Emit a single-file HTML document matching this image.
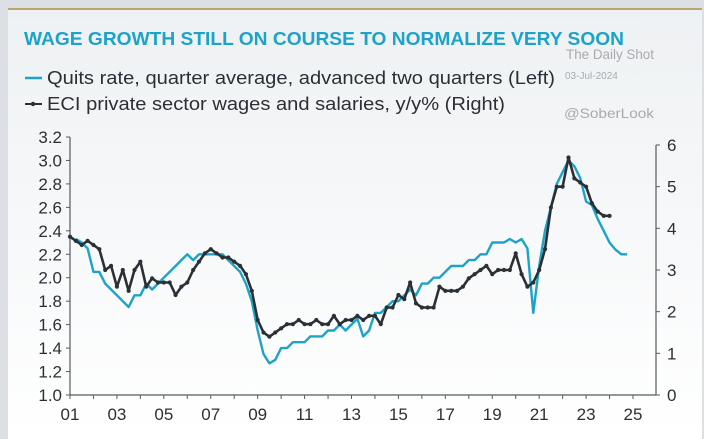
<!DOCTYPE html>
<html><head><meta charset="utf-8"><style>
html,body{margin:0;padding:0;background:#fff;}
#wrap{position:relative;width:704px;height:439px;overflow:hidden;font-family:"Liberation Sans",sans-serif;}
</style></head><body>
<div id="wrap">
<svg id="svg" width="704" height="439" viewBox="0 0 704 439" xmlns="http://www.w3.org/2000/svg">
<defs><linearGradient id="bg" x1="0" y1="0" x2="0" y2="1"><stop offset="0" stop-color="#eef1f3"/><stop offset="1" stop-color="#ffffff"/></linearGradient></defs>
<rect x="0" y="0" width="704" height="439" fill="#dcdfe3"/>
<rect x="8" y="8" width="694" height="431" fill="url(#bg)"/>
<rect x="8" y="8" width="694" height="2" fill="#b9a46a"/>
<text x="24" y="45" font-size="18" font-weight="bold" fill="#1da3c8" textLength="600" lengthAdjust="spacingAndGlyphs">WAGE GROWTH STILL ON COURSE TO NORMALIZE VERY SOON</text>
<text x="566" y="59" font-size="14" fill="#a7abb0" textLength="88" lengthAdjust="spacingAndGlyphs">The Daily Shot</text>
<text x="565" y="79" font-size="10" fill="#a7abb0">03-Jul-2024</text>
<text x="564" y="118" font-size="14" fill="#a7abb0" textLength="90" lengthAdjust="spacingAndGlyphs">@SoberLook</text>
<g>
<line x1="25" y1="78" x2="42" y2="78" stroke="#1da3c8" stroke-width="2.5"/>
<text x="47" y="84" font-size="18" fill="#2b3035" textLength="508" lengthAdjust="spacingAndGlyphs">Quits rate, quarter average, advanced two quarters (Left)</text>
<line x1="25" y1="104" x2="42" y2="104" stroke="#2b3035" stroke-width="2"/>
<circle cx="33" cy="104" r="2.2" fill="#2b3035"/>
<text x="47" y="110" font-size="18" fill="#2b3035" textLength="458" lengthAdjust="spacingAndGlyphs">ECI private sector wages and salaries, y/y% (Right)</text>
</g>
<g id="axes"></g>
<g id="plot"></g>
</svg>
</div>
<script>
const leftTicks=[1.0,1.2,1.4,1.6,1.8,2.0,2.2,2.4,2.6,2.8,3.0,3.2];
const rightTicks=[0,1,2,3,4,5,6];
const yearTicks=[2001,2003,2005,2007,2009,2011,2013,2015,2017,2019,2021,2023,2025];
const quitsStart=2001.25;
const quitsValues=[2.33,2.3,2.25,2.05,2.05,1.95,1.9,1.85,1.8,1.75,1.85,1.85,1.95,1.9,1.95,2.0,2.05,2.1,2.15,2.2,2.15,2.2,2.2,2.2,2.2,2.2,2.15,2.1,2.05,1.95,1.8,1.55,1.35,1.27,1.3,1.4,1.4,1.45,1.45,1.45,1.5,1.5,1.5,1.55,1.55,1.6,1.55,1.6,1.65,1.5,1.55,1.7,1.7,1.75,1.8,1.8,1.85,1.9,1.85,1.95,1.95,2.0,2.0,2.05,2.1,2.1,2.1,2.15,2.15,2.2,2.2,2.3,2.3,2.3,2.33,2.3,2.33,2.25,1.7,2.1,2.4,2.6,2.8,2.9,3.0,2.95,2.85,2.65,2.62,2.5,2.4,2.3,2.24,2.2,2.2];
const eciStart=2001.0;
const eciValues=[3.8,3.7,3.6,3.7,3.6,3.5,3.0,3.1,2.6,3.0,2.5,3.0,3.2,2.6,2.8,2.7,2.7,2.7,2.4,2.6,2.7,3.0,3.2,3.4,3.5,3.4,3.3,3.3,3.2,3.1,2.9,2.5,1.8,1.5,1.4,1.5,1.6,1.7,1.7,1.8,1.7,1.7,1.8,1.7,1.7,1.9,1.7,1.8,1.8,1.9,1.8,1.9,1.9,1.7,2.1,2.1,2.4,2.3,2.7,2.2,2.1,2.1,2.1,2.6,2.5,2.5,2.5,2.6,2.8,2.9,3.0,3.1,2.9,3.0,3.0,3.0,3.4,2.9,2.6,2.7,3.0,3.5,4.5,5.0,5.0,5.7,5.2,5.1,5.0,4.6,4.4,4.3,4.3];

const X0=70,X1=633,YT=137,YB=395,RT=145;
const xS=t=>X0+(t-2001)*(X1-X0)/24;
const yL=v=>YB-(v-1.0)*(YB-YT)/2.2;
const yR=v=>YB-v*(YB-RT)/6;
const NS='http://www.w3.org/2000/svg';
function mk(tag,attrs,parent){const e=document.createElementNS(NS,tag);for(const k in attrs)e.setAttribute(k,attrs[k]);parent.appendChild(e);return e;}
const axes=document.getElementById('axes'),plot=document.getElementById('plot');
const ax='#555b60';
let e;
e=mk('line',{x1:X0,y1:YT,x2:X0,y2:YB,stroke:ax,'stroke-width':1.2},axes);


e=mk('line',{x1:X0,y1:YB,x2:656,y2:YB,stroke:ax,'stroke-width':1.2},axes);


e=mk('line',{x1:656,y1:RT,x2:656,y2:YB,stroke:ax,'stroke-width':1.2},axes);


leftTicks.forEach(v=>{const y=yL(v);
 mk('line',{x1:X0-4,y1:y,x2:X0,y2:y,stroke:ax},axes);
 e=mk('text',{x:X0-8,y:y+6,'font-size':17,fill:'#2b3035','text-anchor':'end'},axes);e.textContent=v.toFixed(1);
 
 });
rightTicks.forEach(v=>{const y=yR(v);
 mk('line',{x1:656,y1:y,x2:660,y2:y,stroke:ax},axes);
 e=mk('text',{x:667,y:y+6,'font-size':17,fill:'#2b3035'},axes);e.textContent=String(v);
 
 });
for(let yr=2001;yr<=2025;yr++){mk('line',{x1:xS(yr),y1:YB,x2:xS(yr),y2:YB+4,stroke:ax},axes);}
yearTicks.forEach(yr=>{e=mk('text',{x:xS(yr),y:420,'font-size':17,fill:'#2b3035','text-anchor':'middle'},axes);
 e.textContent=String(yr%100).padStart(2,'0');
 
 });
const qp=quitsValues.map((v,i)=>xS(quitsStart+i*0.25).toFixed(1)+','+yL(v).toFixed(1)).join(' ');
e=mk('polyline',{points:qp,fill:'none',stroke:'#1da3c8','stroke-width':2.4,'stroke-linejoin':'round'},plot);


const ep=eciValues.map((v,i)=>xS(eciStart+i*0.25).toFixed(1)+','+yR(v).toFixed(1)).join(' ');
e=mk('polyline',{points:ep,fill:'none',stroke:'#2b3035','stroke-width':2.6,'stroke-linejoin':'round'},plot);


eciValues.forEach((v,i)=>{e=mk('circle',{cx:xS(eciStart+i*0.25),cy:yR(v),r:2.1,fill:'#2b3035'},plot);
 
 });
</script>
</body></html>
